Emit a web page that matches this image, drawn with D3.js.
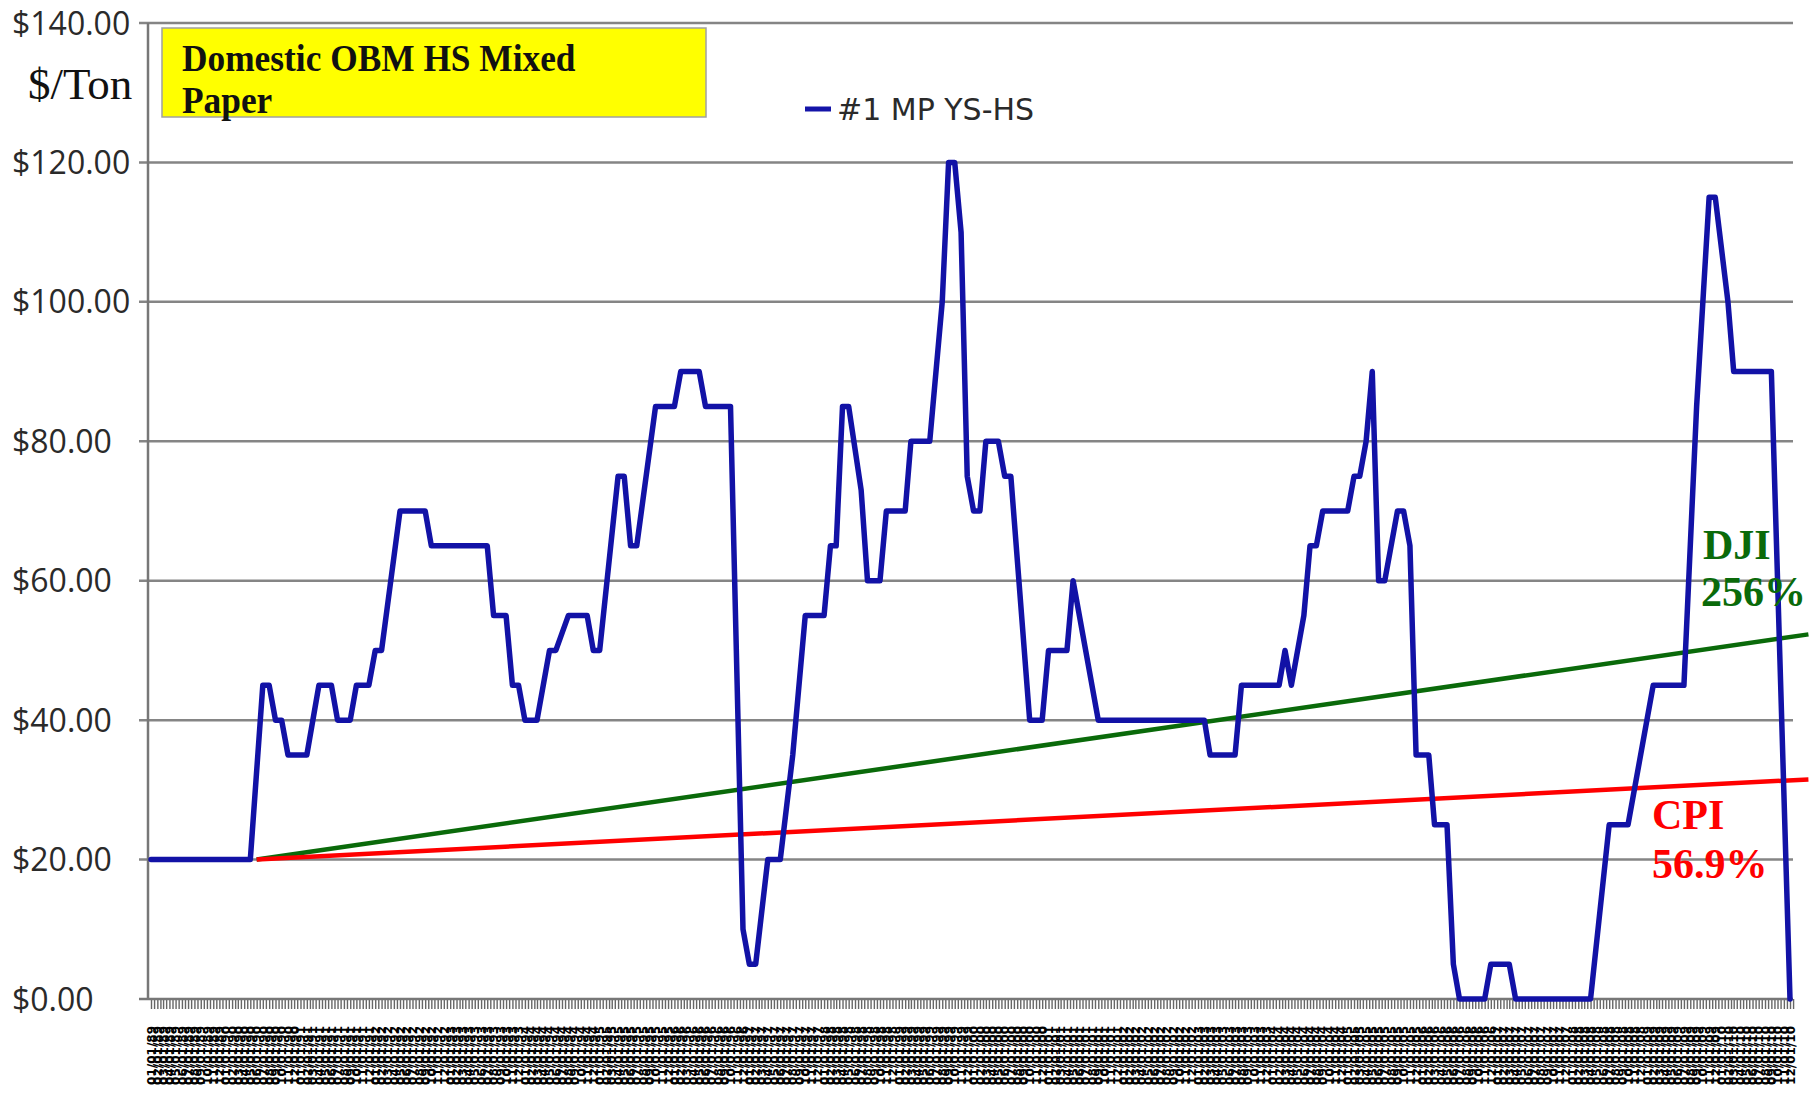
<!DOCTYPE html>
<html>
<head>
<meta charset="utf-8">
<script src="https://cdn.jsdelivr.net/npm/d3@7"></script>
<style>
  body { margin: 0; background: #fff; }
</style>
</head>
<body>
<svg width="1817" height="1100"></svg>
<script>
// Price line vertices, monthly ($/ton)
const priceMonths = [
  "1989-01", "1990-05", "1990-07", "1990-08", "1990-09", "1990-10", "1990-11", "1991-02",
  "1991-04", "1991-06", "1991-07", "1991-09", "1991-10", "1991-12", "1992-01", "1992-02",
  "1992-05", "1992-09", "1992-10", "1993-07", "1993-08", "1993-10", "1993-11", "1993-12",
  "1994-01", "1994-03", "1994-05", "1994-06", "1994-08", "1994-11", "1994-12", "1995-01",
  "1995-04", "1995-05", "1995-06", "1995-07", "1995-10", "1996-01", "1996-02", "1996-05",
  "1996-06", "1996-10", "1996-12", "1997-01", "1997-02", "1997-04", "1997-06", "1997-08",
  "1997-10", "1998-01", "1998-02", "1998-03", "1998-04", "1998-05", "1998-07", "1998-08",
  "1998-10", "1998-11", "1999-02", "1999-03", "1999-06", "1999-08", "1999-09", "1999-10",
  "1999-11", "1999-12", "2000-01", "2000-02", "2000-03", "2000-05", "2000-06", "2000-07",
  "2000-10", "2000-12", "2001-01", "2001-04", "2001-05", "2001-09", "2003-02", "2003-03",
  "2003-07", "2003-08", "2004-02", "2004-03", "2004-04", "2004-06", "2004-07", "2004-08",
  "2004-09", "2005-01", "2005-02", "2005-03", "2005-04", "2005-05", "2005-06", "2005-07",
  "2005-09", "2005-10", "2005-11", "2005-12", "2006-02", "2006-03", "2006-05", "2006-06",
  "2006-07", "2006-11", "2006-12", "2007-03", "2007-04", "2008-04", "2008-07", "2008-10",
  "2009-02", "2009-07", "2009-09", "2009-11", "2009-12", "2010-02", "2010-03", "2010-09",
  "2010-12"
];
const priceValues = [
  20, 20, 45, 45, 40, 40, 35, 35,
  45, 45, 40, 40, 45, 45, 50, 50,
  70, 70, 65, 65, 55, 55, 45, 45,
  40, 40, 50, 50, 55, 55, 50, 50,
  75, 75, 65, 65, 85, 85, 90, 90,
  85, 85, 10, 5, 5, 20, 20, 35,
  55, 55, 65, 65, 85, 85, 73, 60,
  60, 70, 70, 80, 80, 100, 120, 120,
  110, 75, 70, 70, 80, 80, 75, 75,
  40, 40, 50, 50, 60, 40, 40, 35,
  35, 45, 45, 50, 45, 55, 65, 65,
  70, 70, 75, 75, 80, 90, 60, 60,
  70, 70, 65, 35, 35, 25, 25, 5,
  0, 0, 5, 5, 0, 0, 25, 25,
  45, 45, 85, 115, 115, 100, 90, 90,
  0
];

// Trend lines (start and end)
const trendMonths = ["1990-06", "2011-03"];
const djiValues = [20, 52.3];
const cpiValues = [20, 31.5];

// Axes
const axisFirstMonth = "1989-01";
const axisLastMonth = "2010-12";
const yTicks = [0, 20, 40, 60, 80, 100, 120, 140];

const parseMonth = d3.timeParse("%Y-%m");
const svg = d3.select("svg");

const plotLeft = 148, plotRight = 1793, plotTop = 23, plotBottom = 999;

const x = d3.scaleTime()
  .domain([parseMonth(axisFirstMonth), parseMonth(axisLastMonth)])
  .range([151, 1790]);
const y = d3.scaleLinear().domain([0, 140]).range([plotBottom, plotTop]);

// horizontal gridlines
svg.append("g")
  .selectAll("line")
  .data(yTicks.filter(d => d > 0))
  .enter().append("line")
  .attr("x1", plotLeft - 9).attr("x2", plotRight)
  .attr("y1", d => y(d)).attr("y2", d => y(d))
  .attr("stroke", "#858585")
  .attr("stroke-width", 2.5);

// y labels (left aligned like the original)
svg.append("g")
  .selectAll("text")
  .data(yTicks)
  .enter().append("text")
  .attr("x", 12)
  .attr("y", d => y(d))
  .attr("dy", "0.36em")
  .attr("font-family", "Open Sans, sans-serif")
  .attr("font-size", 32)
  .attr("fill", "#2a2a2a")
  .text(d => "$" + d3.format(".2f")(d));

// x axis: monthly labels, half-month ticks
const months = d3.timeMonth.range(parseMonth(axisFirstMonth),
  d3.timeMonth.offset(parseMonth(axisLastMonth), 1));

const xAxis = svg.append("g")
  .attr("transform", `translate(0,${plotBottom})`)
  .call(d3.axisBottom(x)
    .tickValues(months)
    .tickFormat(d3.timeFormat("%m/%d/%y"))
    .tickSize(10)
    .tickSizeOuter(0));
xAxis.select(".domain").remove();
xAxis.selectAll(".tick line").attr("stroke", "#666").attr("stroke-width", 1.4);
xAxis.selectAll("text")
  .attr("y", 0)
  .attr("x", -27)
  .attr("dy", "0.35em")
  .attr("transform", "rotate(-90)")
  .style("text-anchor", "end")
  .attr("font-family", "DejaVu Sans, sans-serif")
  .attr("font-weight", "bold")
  .attr("font-size", 12)
  .attr("fill", "#000");

svg.append("g")
  .attr("transform", `translate(0,${plotBottom})`)
  .call(d3.axisBottom(x)
    .tickValues(months.map(d => d3.timeDay.offset(d, 15)))
    .tickFormat("")
    .tickSize(10)
    .tickSizeOuter(0))
  .call(g => g.select(".domain").remove())
  .selectAll(".tick line").attr("stroke", "#666").attr("stroke-width", 1.4);

// axis lines
svg.append("line")
  .attr("x1", plotLeft - 9).attr("x2", plotRight)
  .attr("y1", plotBottom).attr("y2", plotBottom)
  .attr("stroke", "#777").attr("stroke-width", 2.5);
svg.append("line")
  .attr("x1", plotLeft).attr("x2", plotLeft)
  .attr("y1", plotTop).attr("y2", plotBottom)
  .attr("stroke", "#777").attr("stroke-width", 2.5);

// title box
svg.append("rect")
  .attr("x", 162).attr("y", 28)
  .attr("width", 544).attr("height", 89)
  .attr("fill", "#ffff00")
  .attr("stroke", "#a0a0a0").attr("stroke-width", 1.5);

const serif = "Liberation Serif, Times New Roman, serif";
svg.append("text")
  .attr("transform", "translate(182,71) scale(0.93,1)")
  .attr("font-family", serif)
  .attr("font-weight", "bold")
  .attr("font-size", 38)
  .attr("fill", "#111")
  .text("Domestic OBM HS Mixed");
svg.append("text")
  .attr("transform", "translate(182,113) scale(0.93,1)")
  .attr("font-family", serif)
  .attr("font-weight", "bold")
  .attr("font-size", 38)
  .attr("fill", "#111")
  .text("Paper");

svg.append("text")
  .attr("transform", "translate(28,99)")
  .attr("font-family", serif)
  .attr("font-size", 45)
  .attr("fill", "#111")
  .text("$/Ton");

// legend
svg.append("line")
  .attr("x1", 805).attr("x2", 831)
  .attr("y1", 109).attr("y2", 109)
  .attr("stroke", "#1414a8").attr("stroke-width", 5);
svg.append("text")
  .attr("x", 837).attr("y", 109)
  .attr("dy", "0.36em")
  .attr("font-family", "DejaVu Sans, sans-serif")
  .attr("font-size", 30)
  .attr("fill", "#2a2a2a")
  .text("#1 MP YS-HS");

// trend lines
const line = d3.line()
  .x(d => x(d[0]))
  .y(d => y(d[1]));

const trendDates = trendMonths.map(parseMonth);
svg.append("path")
  .datum(trendDates.map((d, i) => [d, djiValues[i]]))
  .attr("d", line)
  .attr("fill", "none")
  .attr("stroke", "#0a6a0a")
  .attr("stroke-width", 4.5);
svg.append("path")
  .datum(trendDates.map((d, i) => [d, cpiValues[i]]))
  .attr("d", line)
  .attr("fill", "none")
  .attr("stroke", "#ff0000")
  .attr("stroke-width", 4.5);

// price line
svg.append("path")
  .datum(priceMonths.map((m, i) => [parseMonth(m), priceValues[i]]))
  .attr("d", line)
  .attr("fill", "none")
  .attr("stroke", "#1212a6")
  .attr("stroke-width", 5.5)
  .attr("stroke-linejoin", "round")
  .attr("stroke-linecap", "round");

// annotations
const dji = svg.append("text")
  .attr("font-family", serif).attr("font-weight", "bold")
  .attr("font-size", 42).attr("fill", "#0a6a0a");
dji.append("tspan").attr("x", 1703).attr("y", 559).text("DJI");
dji.append("tspan").attr("x", 1701).attr("y", 606).text("256%");

const cpi = svg.append("text")
  .attr("font-family", serif).attr("font-weight", "bold")
  .attr("font-size", 42).attr("fill", "#ff0000");
cpi.append("tspan").attr("x", 1652).attr("y", 829).text("CPI");
cpi.append("tspan").attr("x", 1652).attr("y", 878).text("56.9%");
</script>
</body>
</html>
